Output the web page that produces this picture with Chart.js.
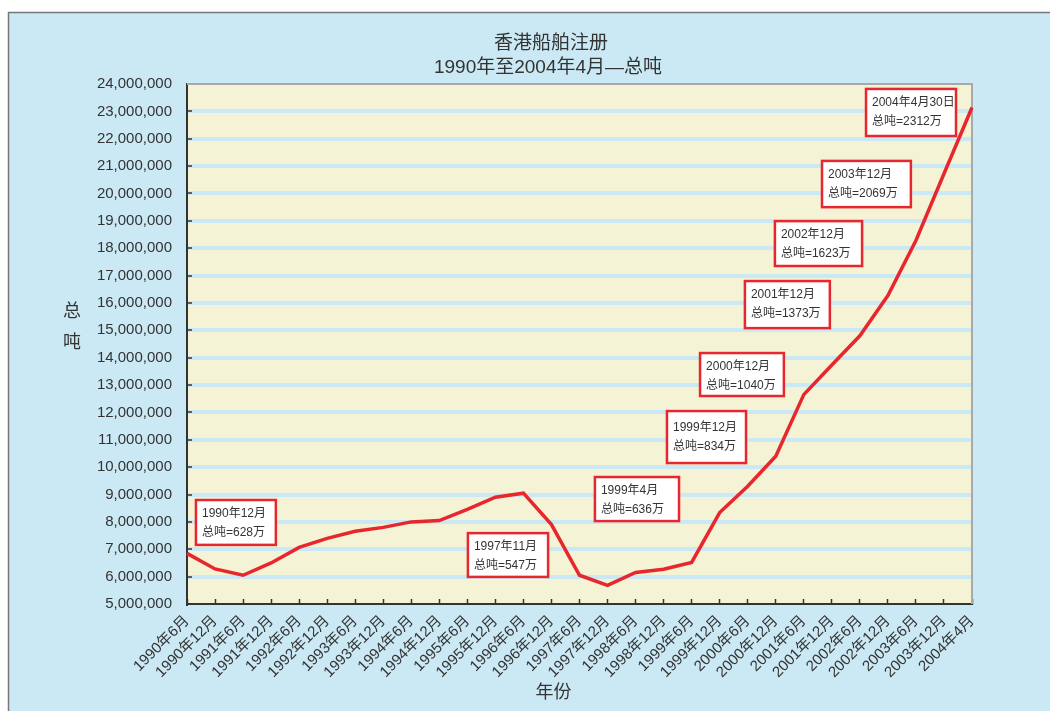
<!DOCTYPE html>
<html>
<head>
<meta charset="utf-8">
<script src="https://cdn.jsdelivr.net/npm/chart.js@4.4.1/dist/chart.umd.min.js"></script>
<style>
html,body{margin:0;padding:0;background:#fff;}
#wrap{width:1050px;height:711px;position:relative;}
</style>
</head>
<body>
<div id="wrap"><canvas id="c"></canvas></div>
<script>
const categories = ['1990年6月','1990年12月','1991年6月','1991年12月','1992年6月','1992年12月','1993年6月','1993年12月','1994年6月','1994年12月','1995年6月','1995年12月','1996年6月','1996年12月','1997年6月','1997年12月','1998年6月','1998年12月','1999年6月','1999年12月','2000年6月','2000年12月','2001年6月','2001年12月','2002年6月','2002年12月','2003年6月','2003年12月','2004年4月'];
const grossTonnage = [6850000,6280000,6050000,6500000,7070000,7400000,7660000,7800000,8000000,8050000,8460000,8900000,9050000,7900000,6050000,5680000,6150000,6270000,6520000,8340000,9300000,10400000,12650000,13730000,14800000,16270000,18280000,20720000,23140000];
const titleLines = ['香港船舶注册','1990年至2004年4月—总吨'];
const yTitle = ['总','吨'];
const xTitle = '年份';
// annotation texts
const noteDates = ['1990年12月','1997年11月','1999年4月','1999年12月','2000年12月','2001年12月','2002年12月','2003年12月','2004年4月30日'];
const noteValues = ['总吨=628万','总吨=547万','总吨=636万','总吨=834万','总吨=1040万','总吨=1373万','总吨=1623万','总吨=2069万','总吨=2312万'];
// annotation box placement in data space: [left index, right index, top value, bottom value]
const noteBoxes = [
  [0.32, 3.17, 8800000, 7160000],
  [10.02, 12.88, 7590000, 5990000],
  [14.55, 17.55, 9640000, 8030000],
  [17.12, 19.94, 12050000, 10150000],
  [18.30, 21.29, 14170000, 12600000],
  [19.90, 22.93, 16800000, 15080000],
  [20.97, 24.08, 18990000, 17350000],
  [22.65, 25.82, 21190000, 19500000],
  [24.22, 27.43, 23820000, 22100000]
];

const FONT = "'Liberation Sans','Noto Sans CJK SC',sans-serif";
Chart.defaults.font.family = FONT;
Chart.defaults.color = '#333';

const BG = '#cbe9f4';
const PLOT = '#f5f3d5';

const decor = {
  id: 'decor',
  beforeDraw(chart) {
    const {ctx, width, height, chartArea: a} = chart;
    ctx.save();
    ctx.fillStyle = '#fff';
    ctx.fillRect(0, 0, width, height);
    ctx.fillStyle = BG;
    ctx.fillRect(8, 12, width - 8, height - 12);
    ctx.strokeStyle = '#777';
    ctx.lineWidth = 1.5;
    ctx.beginPath();
    ctx.moveTo(8.5, height);
    ctx.lineTo(8.5, 12.5);
    ctx.lineTo(width, 12.5);
    ctx.stroke();
    ctx.fillStyle = PLOT;
    ctx.fillRect(a.left, a.top, a.right - a.left, a.bottom - a.top);
    // title
    ctx.fillStyle = '#333';
    ctx.font = '19px ' + FONT;
    ctx.textAlign = 'center';
    ctx.textBaseline = 'middle';
    ctx.fillText(titleLines[0], 551, 44);
    ctx.fillText(titleLines[1], 548, 68);
    ctx.restore();
  },
  beforeDatasetsDraw(chart) {
    const {ctx, chartArea: a} = chart;
    ctx.save();
    ctx.strokeStyle = '#a9a9a9';
    ctx.lineWidth = 2;
    ctx.beginPath();
    ctx.moveTo(a.left, a.top);
    ctx.lineTo(a.right, a.top);
    ctx.lineTo(a.right, a.bottom);
    ctx.stroke();
    ctx.restore();
  },
  afterDraw(chart) {
    const {ctx, chartArea: a, scales: {x, y}} = chart;
    ctx.save();
    // annotation boxes
    ctx.font = '12px ' + FONT;
    noteBoxes.forEach((b, i) => {
      const l = x.getPixelForValue(b[0]);
      const r = x.getPixelForValue(b[1]);
      const t = y.getPixelForValue(b[2]);
      const bt = y.getPixelForValue(b[3]);
      ctx.fillStyle = '#fff';
      ctx.fillRect(l, t, r - l, bt - t);
      ctx.strokeStyle = '#e8262d';
      ctx.lineWidth = 2.5;
      ctx.strokeRect(l, t, r - l, bt - t);
      ctx.fillStyle = '#333';
      ctx.textAlign = 'left';
      ctx.textBaseline = 'middle';
      const extra = (bt - t) > 48 ? 3 : 0;
      ctx.fillText(noteDates[i], l + 6, t + 14 + extra);
      ctx.fillText(noteValues[i], l + 6, t + 33 + extra);
    });
    // axis titles
    ctx.font = '18px ' + FONT;
    ctx.fillStyle = '#333';
    ctx.textAlign = 'center';
    ctx.textBaseline = 'middle';
    const midY = (a.top + a.bottom) / 2;
    ctx.fillText(yTitle[0], 72, midY - 32);
    ctx.fillText(yTitle[1], 72, midY - 1);
    ctx.fillText(xTitle, (a.left + a.right) / 2 - 26, 693);
    ctx.restore();
  }
};

new Chart(document.getElementById('c'), {
  type: 'line',
  data: {
    labels: categories,
    datasets: [{
      data: grossTonnage,
      borderColor: '#e8262d',
      borderWidth: 3.5,
      pointRadius: 0,
      tension: 0,
      fill: false,
      borderJoinStyle: 'miter'
    }]
  },
  options: {
    responsive: true,
    maintainAspectRatio: false,
    animation: false,
    layout: {padding: {top: 84, left: 8, right: 78, bottom: 0}},
    plugins: {
      legend: {display: false},
      tooltip: {enabled: false},
      title: {display: false}
    },
    scales: {
      x: {
        type: 'category',
        offset: false,
        afterFit(s) { s.height = 107; },
        grid: {drawOnChartArea: false, drawTicks: true, tickLength: -5, tickColor: '#333', tickWidth: 1.5},
        border: {display: true, color: '#333', width: 2},
        ticks: {autoSkip: false, maxRotation: 45, minRotation: 45, padding: 13, color: '#333', font: {size: 15}}
      },
      y: {
        min: 5000000,
        max: 24000000,
        afterFit(s) { s.width = 179; },
        grid: {
          color: (c) => (c.tick && (c.tick.value === 5000000 || c.tick.value === 24000000)) ? 'rgba(0,0,0,0)' : BG,
          lineWidth: 4,
          drawTicks: true,
          tickLength: -5,
          tickColor: '#333',
          tickWidth: 1.5
        },
        border: {display: true, color: '#333', width: 2},
        ticks: {
          stepSize: 1000000,
          padding: 20,
          color: '#333',
          font: {size: 15},
          callback: (v) => v.toLocaleString('en-US')
        }
      }
    }
  },
  plugins: [decor]
});
</script>
</body>
</html>
